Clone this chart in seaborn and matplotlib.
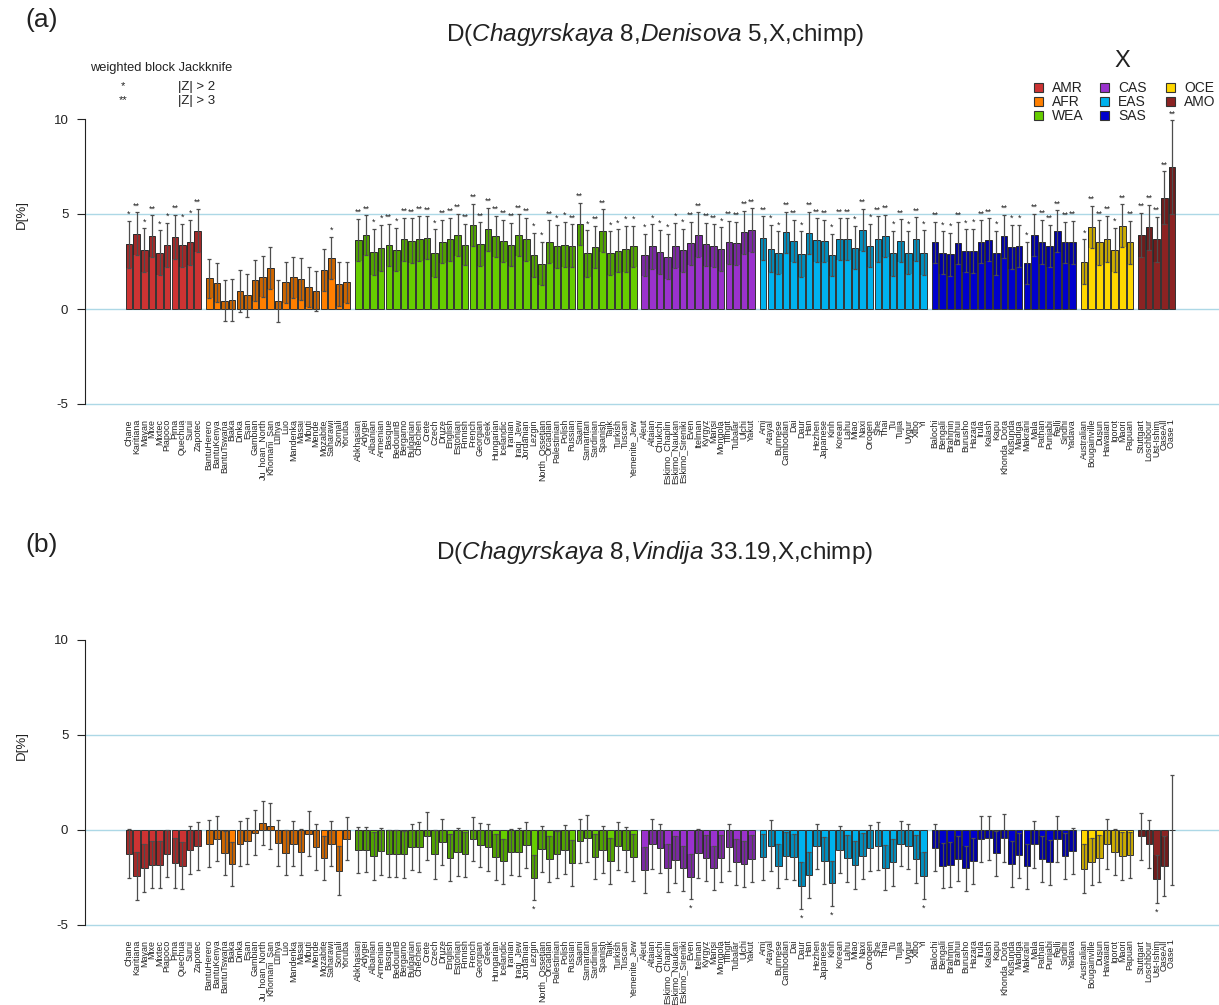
import numpy as np
import pandas as pd
import matplotlib
matplotlib.use("Agg")
import matplotlib.pyplot as plt
import seaborn as sns
from matplotlib.patches import Rectangle

# ---------------- data ----------------
groups = ["AMR", "AFR", "WEA", "CAS", "EAS", "SAS", "OCE", "AMO"]
group_colors = ["#CD3333", "#FF7F00", "#66CD00", "#9A32CD", "#00B2EE", "#0000CD", "#FFD700", "#8B2323"]

AMR_labels = ["Chane", "Karitiana", "Mayan", "Mixe", "Mixtec", "Piapoco", "Pima", "Quechua", "Surui", "Zapotec"]
AFR_labels = ["BantuHerero", "BantuKenya", "BantuTswana", "Biaka", "Dinka", "Esan", "Gambian", "Ju_hoan_North",
              "Khomani_San", "Luhya", "Luo", "Mandenka", "Masai", "Mbuti", "Mende", "Mozabite", "Saharawi",
              "Somali", "Yoruba"]
WEA_labels = ["Abkhasian", "Adygei", "Albanian", "Armenian", "Basque", "BedouinB", "Bergamo", "Bulgarian",
              "Chechen", "Crete", "Czech", "Druze", "English", "Estonian", "Finnish", "French", "Georgian",
              "Greek", "Hungarian", "Icelandic", "Iranian", "Iraqi_Jew", "Jordanian", "Lezgin",
              "North_Ossetian", "Orcadian", "Palestinian", "Polish", "Russian", "Saami", "Samaritan",
              "Sardinian", "Spanish", "Tajik", "Turkish", "Tuscan", "Yemenite_Jew"]
CAS_labels = ["Aleut", "Altaian", "Chukchi", "Eskimo_Chaplin", "Eskimo_Naukan", "Eskimo_Sireniki", "Even",
              "Itelman", "Kyrgyz", "Mansi", "Mongola", "Tlingit", "Tubalar", "Ulchi", "Yakut"]
EAS_labels = ["Ami", "Atayal", "Burmese", "Cambodian", "Dai", "Daur", "Han", "Hezhen", "Japanese", "Kinh",
              "Korean", "Lahu", "Miao", "Naxi", "Oroqen", "She", "Thai", "Tu", "Tujia", "Uygur", "Xibo", "Yi"]
SAS_labels = ["Balochi", "Bengali", "Brahmin", "Brahui", "Burusho", "Hazara", "Irula", "Kalash", "Kapu",
              "Khonda_Dora", "Kusunda", "Madiga", "Makrani", "Mala", "Pathan", "Punjabi", "Relli", "Sindhi",
              "Yadava"]
OCE_labels = ["Australian", "Bougainville", "Dusun", "Hawaiian", "Igorot", "Maori", "Papuan"]
AMO_labels = ["Stuttgart", "Loschbour", "Ust-Ishim", "OaseAll", "Oase 1"]

# panel (a): D(Chagyrskaya 8, Denisova 5, X, chimp) in %
AMR_a = [3.41, 3.96, 3.09, 3.83, 2.97, 3.37, 3.80, 3.36, 3.50, 4.13]
AFR_a = [1.61, 1.38, 0.44, 0.49, 0.95, 0.72, 1.52, 1.71, 2.14, 0.44, 1.41, 1.66, 1.59, 1.17, 0.94, 2.07,
         2.69, 1.33, 1.41]
WEA_a = [3.64, 3.89, 2.99, 3.20, 3.37, 3.13, 3.66, 3.60, 3.71, 3.76, 2.95, 3.55, 3.66, 3.90, 3.39, 4.43,
         3.41, 4.19, 3.82, 3.59, 3.39, 3.89, 3.66, 2.86, 2.39, 3.55, 3.29, 3.39, 3.32, 4.49, 2.93, 3.27,
         4.13, 2.93, 3.06, 3.16, 3.29]
CAS_a = [2.84, 3.29, 3.00, 2.76, 3.34, 3.09, 3.45, 3.90, 3.41, 3.34, 3.14, 3.50, 3.45, 4.05, 4.15]
EAS_a = [3.73, 3.18, 2.97, 4.05, 3.59, 2.88, 4.01, 3.62, 3.59, 2.84, 3.67, 3.67, 3.23, 4.15, 3.34, 3.67,
         3.85, 2.93, 3.59, 2.97, 3.67, 2.97]
SAS_a = [3.50, 2.97, 2.88, 3.48, 3.06, 3.06, 3.53, 3.64, 2.95, 3.82, 3.27, 3.32, 2.44, 3.89, 3.53, 3.32,
         4.10, 3.50, 3.50]
OCE_a = [2.49, 4.33, 3.50, 3.69, 3.11, 4.38, 3.50]
AMO_a = [3.89, 4.29, 3.67, 5.85, 7.46]

AMR_a_err = [1.24, 1.13, 1.15, 1.11, 1.17, 1.18, 1.17, 1.13, 1.20, 1.13]
AFR_a_err = [1.04, 1.02, 1.06, 1.10, 1.10, 1.12, 1.08, 1.08, 1.11, 1.10, 1.08, 1.08, 1.10, 1.06, 1.06, 1.10,
             1.10, 1.16, 1.08]
WEA_a_err = [1.10, 1.04, 1.22, 1.22, 1.10, 1.13, 1.15, 1.17, 1.20, 1.11, 1.25, 1.15, 1.15, 1.10, 1.10, 1.10,
             1.15, 1.13, 1.10, 1.10, 1.15, 1.10, 1.15, 1.15, 1.15, 1.11, 1.13, 1.20, 1.13, 1.11, 1.22, 1.11,
             1.11, 1.15, 1.13, 1.22, 1.10]
CAS_a_err = [1.11, 1.17, 1.18, 1.20, 1.18, 1.13, 1.13, 1.18, 1.13, 1.11, 1.15, 1.13, 1.13, 1.13, 1.15]
EAS_a_err = [1.15, 1.24, 1.11, 1.08, 1.11, 1.20, 1.11, 1.15, 1.11, 1.11, 1.11, 1.11, 1.15, 1.11, 1.15, 1.20,
             1.11, 1.18, 1.13, 1.15, 1.15, 1.17]
SAS_a_err = [1.10, 1.11, 1.13, 1.10, 1.13, 1.15, 1.13, 1.13, 1.15, 1.15, 1.15, 1.10, 1.11, 1.11, 1.15, 1.11,
             1.10, 1.10, 1.15]
OCE_a_err = [1.17, 1.10, 1.17, 1.20, 1.17, 1.13, 1.15]
AMO_a_err = [1.17, 1.18, 1.18, 1.40, 2.47]

AMR_a_sig = ["*", "**", "*", "**", "*", "*", "**", "*", "*", "**"]
AFR_a_sig = [""] * 16 + ["*", "", ""]
WEA_a_sig = ["**", "**", "*", "*", "**", "*", "**", "**", "**", "**", "*", "**", "**", "**", "**", "**",
             "**", "**", "**", "**", "**", "**", "**", "*", "*", "**", "*", "*", "**", "**", "*", "**",
             "**", "*", "*", "*", "*"]
CAS_a_sig = ["*", "*", "*", "*", "*", "*", "**", "**", "**", "**", "*", "**", "**", "**", "**"]
EAS_a_sig = ["**", "*", "*", "**", "**", "*", "**", "**", "**", "*", "**", "**", "*", "**", "*", "**",
             "**", "*", "**", "*", "**", "*"]
SAS_a_sig = ["**", "*", "*", "**", "*", "*", "**", "**", "*", "**", "*", "*", "*", "**", "**", "**",
             "**", "**", "**"]
OCE_a_sig = ["*", "**", "**", "**", "*", "**", "**"]
AMO_a_sig = ["**", "**", "**", "**", "**"]

# panel (b): D(Chagyrskaya 8, Vindija 33.19, X, chimp) in %
AMR_b = [-1.26, -2.44, -2.02, -1.84, -1.84, -1.26, -1.75, -1.89, -1.09, -0.86]
AFR_b = [-0.74, -0.47, -1.23, -1.79, -0.74, -0.61, -0.16, 0.35, 0.19, -0.68, -1.21, -0.74, -1.18, -0.21,
         -0.91, -1.49, -0.74, -2.16, -0.47]
WEA_b = [-1.05, -1.05, -1.39, -1.14, -1.26, -1.26, -1.30, -0.91, -0.91, -0.33, -1.30, -0.63, -1.47, -1.19,
         -1.30, -0.51, -0.82, -0.93, -1.44, -1.67, -1.18, -1.18, -0.79, -2.53, -1.04, -1.53, -1.30, -1.05,
         -1.75, -0.61, -0.46, -1.42, -1.05, -1.65, -0.86, -1.05, -1.46]
CAS_b = [-2.12, -0.76, -0.97, -2.03, -1.59, -2.03, -2.47, -1.24, -1.50, -2.01, -1.50, -0.94, -1.71, -1.80,
         -1.54]
EAS_b = [-1.45, -0.85, -1.91, -1.38, -1.45, -2.95, -2.39, -0.88, -1.64, -2.83, -1.06, -1.50, -1.86, -1.38,
         -0.95, -0.85, -2.00, -1.71, -0.74, -0.88, -1.54, -2.44]
SAS_b = [-0.95, -1.89, -1.84, -1.52, -2.03, -1.66, -0.49, -0.44, -1.25, -0.44, -1.80, -1.36, -1.94, -0.76,
         -1.54, -1.73, -0.49, -1.38, -1.11]
OCE_b = [-2.05, -1.68, -1.50, -0.74, -1.18, -1.38, -1.33]
AMO_b = [-0.35, -0.76, -2.61, -1.91, -0.02]

AMR_b_err = [1.28, 1.26, 1.25, 1.23, 1.23, 1.26, 1.32, 1.23, 1.26, 1.25]
AFR_b_err = [1.23, 1.18, 1.18, 1.16, 1.19, 1.21, 1.19, 1.18, 1.20, 1.21, 1.19, 1.18, 1.19, 1.18, 1.19, 1.18,
             1.19, 1.28, 1.14]
WEA_b_err = [1.21, 1.19, 1.28, 1.25, 1.26, 1.26, 1.23, 1.23, 1.33, 1.25, 1.30, 1.21, 1.25, 1.26, 1.18, 1.16,
             1.16, 1.23, 1.19, 1.18, 1.23, 1.28, 1.21, 1.18, 1.21, 1.21, 1.23, 1.28, 1.21, 1.16, 1.25, 1.19,
             1.25, 1.19, 1.25, 1.19, 1.23]
CAS_b_err = [1.20, 1.33, 1.29, 1.27, 1.24, 1.18, 1.20, 1.29, 1.22, 1.17, 1.24, 1.24, 1.22, 1.22, 1.24]
EAS_b_err = [1.20, 1.34, 1.18, 1.24, 1.20, 1.25, 1.20, 1.20, 1.24, 1.18, 1.25, 1.24, 1.25, 1.20, 1.22, 1.27,
             1.18, 1.24, 1.20, 1.20, 1.25, 1.24]
SAS_b_err = [1.24, 1.20, 1.18, 1.18, 1.18, 1.20, 1.20, 1.18, 1.18, 1.25, 1.20, 1.20, 1.20, 1.24, 1.22, 1.18,
             1.22, 1.20, 1.22]
OCE_b_err = [1.31, 1.24, 1.24, 1.31, 1.22, 1.27, 1.20]
AMO_b_err = [1.24, 1.27, 1.27, 1.59, 2.88]

b_sig_single = ["Lezgin", "Even", "Daur", "Kinh", "Yi", "Ust-Ishim"]

y_ticks = [-5, 0, 5, 10]
grid_levels = [-5, 0, 5]

# ---------------- assemble ----------------
labels_by_group = dict(zip(groups, [AMR_labels, AFR_labels, WEA_labels, CAS_labels, EAS_labels, SAS_labels,
                                    OCE_labels, AMO_labels]))
a_vals = dict(zip(groups, [AMR_a, AFR_a, WEA_a, CAS_a, EAS_a, SAS_a, OCE_a, AMO_a]))
a_errs = dict(zip(groups, [AMR_a_err, AFR_a_err, WEA_a_err, CAS_a_err, EAS_a_err, SAS_a_err, OCE_a_err,
                           AMO_a_err]))
a_sigs = dict(zip(groups, [AMR_a_sig, AFR_a_sig, WEA_a_sig, CAS_a_sig, EAS_a_sig, SAS_a_sig, OCE_a_sig,
                           AMO_a_sig]))
b_vals = dict(zip(groups, [AMR_b, AFR_b, WEA_b, CAS_b, EAS_b, SAS_b, OCE_b, AMO_b]))
b_errs = dict(zip(groups, [AMR_b_err, AFR_b_err, WEA_b_err, CAS_b_err, EAS_b_err, SAS_b_err, OCE_b_err,
                           AMO_b_err]))


def build(vals, errs, sigs=None):
    rows = []
    pos = 0.0
    for g in groups:
        for i, lab in enumerate(labels_by_group[g]):
            if sigs is not None:
                s = sigs[g][i]
            else:
                s = "*" if lab in b_sig_single else ""
            rows.append(dict(pos=pos, label=lab, group=g, D=vals[g][i], err=errs[g][i], sig=s))
            pos += 1.0
        pos += 0.5
    return pd.DataFrame(rows)


df_a = build(a_vals, a_errs, a_sigs)
df_b = build(b_vals, b_errs)

# ---------------- style ----------------
sns.set_theme(style="white")
plt.rcParams["font.family"] = ["Liberation Sans", "DejaVu Sans"]
plt.rcParams["axes.unicode_minus"] = False
plt.rcParams["mathtext.fontset"] = "custom"
plt.rcParams["mathtext.rm"] = "Liberation Sans"
plt.rcParams["mathtext.it"] = "Liberation Sans:italic"

W, H = 1219, 1005
fig = plt.figure(figsize=(W / 100, H / 100), dpi=100)

ylim = (-5.5, 11)
ax_left = 85 / W
ax_a = fig.add_axes([ax_left, 1 - 413.5 / H, 1 - ax_left, (413.5 - 100) / H])
ax_b = fig.add_axes([ax_left, 1 - 934 / H, 1 - ax_left, (934 - 621) / H])

slot_px = 7.64
last_pos = df_a["pos"].max()
xlim = (-(129 - 85) / slot_px, last_pos + (W - 1172) / slot_px)


def draw_panel(ax, df, stars_below):
    for lvl in grid_levels:
        ax.axhline(lvl, color="#ADD8E6", lw=1.0, zorder=0)
    sns.barplot(data=df, x="pos", y="D", hue="group", hue_order=groups, palette=group_colors,
                saturation=1, native_scale=True, dodge=False, width=0.86, edgecolor="#333333",
                linewidth=0.7, errorbar=None, legend=False, ax=ax, zorder=2)
    # darker band inside bar (from the bar end back by one error unit)
    sign = np.sign(df["D"]).replace(0, 1)
    band = np.minimum(df["err"], df["D"].abs())
    ax.bar(df["pos"], -sign * band, bottom=df["D"], width=0.86, color="black", alpha=0.2,
           linewidth=0, zorder=3)
    ax.errorbar(df["pos"], df["D"], yerr=df["err"], fmt="none", ecolor="#4d4d4d", elinewidth=0.9,
                capsize=1.6, capthick=0.9, zorder=4)
    for _, r in df.iterrows():
        if r["sig"]:
            if stars_below:
                ax.text(r["pos"], r["D"] - r["err"] - 0.25, r["sig"], ha="center", va="top",
                        fontsize=6.5, color="#222222")
            else:
                ax.text(r["pos"], r["D"] + r["err"] + 0.1, r["sig"], ha="center", va="bottom",
                        fontsize=6.5, color="#222222")
    ax.set_xlim(*xlim)
    ax.set_ylim(*ylim)
    ax.set_xticks(df["pos"])
    ax.set_xticklabels(df["label"], rotation=90, fontsize=6.4, color="#222222")
    ax.tick_params(axis="x", length=0, pad=4)
    ax.set_yticks(y_ticks)
    ax.set_yticklabels([str(t) for t in y_ticks], fontsize=9.5, color="#222222")
    ax.tick_params(axis="y", length=6, width=0.8, pad=6, left=True, color="#222222")
    for s in ["top", "right", "bottom"]:
        ax.spines[s].set_visible(False)
    ax.spines["left"].set_bounds(-5, 10)
    ax.spines["left"].set_color("#222222")
    ax.spines["left"].set_linewidth(0.8)
    ax.set_xlabel("")
    ax.set_ylabel("")
    ax.grid(False)


draw_panel(ax_a, df_a, stars_below=False)
draw_panel(ax_b, df_b, stars_below=True)

# y labels
fig.text(22 / W, 1 - 214 / H, "D[%]", rotation=90, ha="center", va="center", fontsize=9.5, color="#222222")
fig.text(22 / W, 1 - 745 / H, "D[%]", rotation=90, ha="center", va="center", fontsize=9.5, color="#222222")

# panel tags and titles
fig.text(25 / W, 1 - 20 / H, "(a)", fontsize=19, ha="left", va="center", color="#222222")
fig.text(25 / W, 1 - 545 / H, "(b)", fontsize=19, ha="left", va="center", color="#222222")
fig.text(655 / W, 1 - 35 / H, r"D($\mathit{Chagyrskaya\ 8}$,$\mathit{Denisova\ 5}$,X,chimp)",
         fontsize=17.5, ha="center", va="center", color="#222222")
fig.text(655 / W, 1 - 553 / H, r"D($\mathit{Chagyrskaya\ 8}$,$\mathit{Vindija\ 33.19}$,X,chimp)",
         fontsize=17.5, ha="center", va="center", color="#222222")

# significance key
fig.text(90 / W, 1 - 68 / H, "weighted block Jackknife", fontsize=9.3, ha="left", va="center", color="#222222")
fig.text(123 / W, 1 - 86 / H, "*", fontsize=8, ha="center", va="center", color="#222222")
fig.text(178 / W, 1 - 87 / H, "|Z| > 2", fontsize=9.5, ha="left", va="center", color="#222222")
fig.text(123 / W, 1 - 100 / H, "**", fontsize=8, ha="center", va="center", color="#222222")
fig.text(178 / W, 1 - 101 / H, "|Z| > 3", fontsize=9.5, ha="left", va="center", color="#222222")

# legend (3 columns, column-major), drawn in figure pixels
fig.text(1122 / W, 1 - 61 / H, "X", fontsize=17, ha="center", va="center", color="#222222")
sq = 9
for i, (g, c) in enumerate(zip(groups, group_colors)):
    col, row = divmod(i, 3)
    cx = 1038 + 66 * col
    cy = 88 + 14 * row
    fig.patches.append(Rectangle(((cx - sq / 2) / W, 1 - (cy + sq / 2) / H), sq / W, sq / H,
                                 transform=fig.transFigure, facecolor=c, edgecolor="#333333",
                                 linewidth=0.8, figure=fig))
    fig.text((cx + 14) / W, 1 - cy / H, g, fontsize=10, ha="left", va="center", color="#222222")

fig.savefig("out.png", dpi=100)
